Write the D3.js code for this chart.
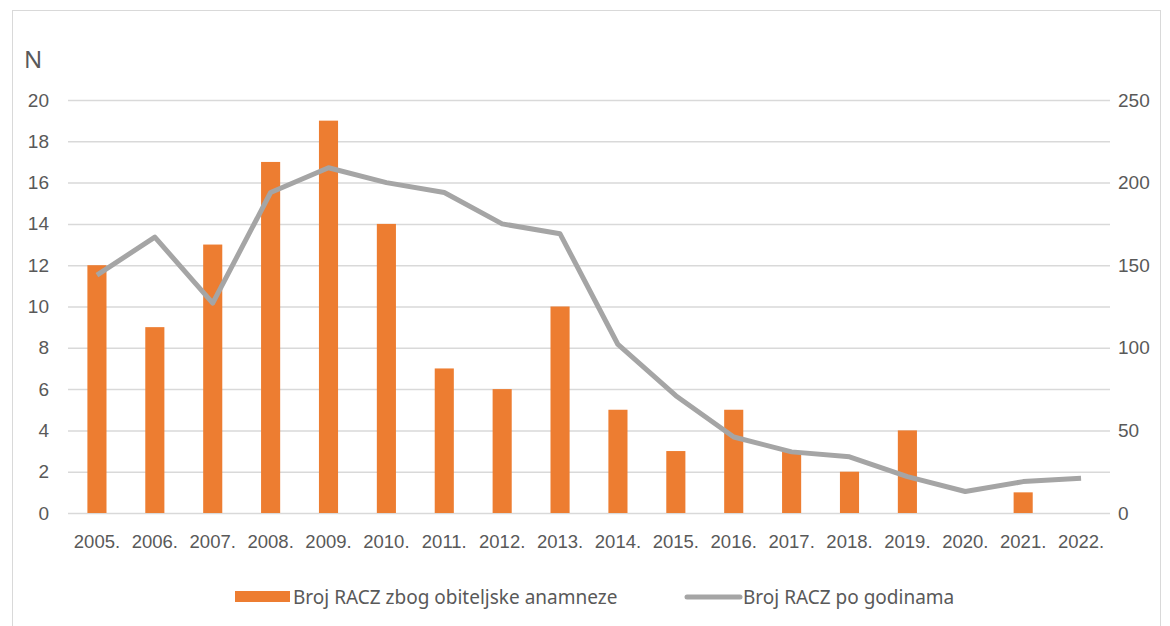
<!DOCTYPE html>
<html>
<head>
<meta charset="utf-8">
<script src="https://cdn.jsdelivr.net/npm/d3@7"></script>
<style>
  body { margin: 0; background: #fff; }
  svg { font-family: "Noto Sans", sans-serif; }
</style>
</head>
<body>
<svg id="chart" width="1170" height="626"></svg>
<script>
// podaci
const years = ["2005.", "2006.", "2007.", "2008.", "2009.", "2010.", "2011.", "2012.", "2013.",
  "2014.", "2015.", "2016.", "2017.", "2018.", "2019.", "2020.", "2021.", "2022."];
const familyHistory = [12, 9, 13, 17, 19, 14, 7, 6, 10, 5, 3, 5, 3, 2, 4, 0, 1, 0];
const perYear = [144, 167, 127, 194, 209, 200, 194, 175, 169, 102, 71, 46, 37, 34, 22, 13, 19, 21];
const leftTicks = [0, 2, 4, 6, 8, 10, 12, 14, 16, 18, 20];
const rightTicks = [0, 50, 100, 150, 200, 250];
const barLabel = "Broj RACZ zbog obiteljske anamneze";
const lineLabel = "Broj RACZ po godinama";

const svg = d3.select("#chart");
const margin = { top: 100, left: 68, bottom: 113, right: 60 };
const width = 1170, height = 626;
const textColor = "#595959";

// okvir
svg.append("rect")
  .attr("x", 12.5).attr("y", 10.5)
  .attr("width", 1148).attr("height", 640)
  .attr("fill", "none").attr("stroke", "#d9d9d9");

const x = d3.scaleBand()
  .domain(years)
  .range([margin.left, width - margin.right])
  .paddingInner(0.67)
  .paddingOuter(0.335);

const y = d3.scaleLinear().domain([0, 20]).range([height - margin.bottom, margin.top]);
const y2 = d3.scaleLinear().domain([0, 250]).range([height - margin.bottom, margin.top]);

// mreža + lijeva os
svg.append("g")
  .attr("transform", `translate(${margin.left},0)`)
  .call(d3.axisLeft(y).tickValues(leftTicks).tickSize(-(width - margin.left - margin.right)).tickPadding(19))
  .call(g => g.select(".domain").remove())
  .call(g => g.selectAll("line").attr("stroke", "#d9d9d9").attr("stroke-width", 1.5))
  .call(g => g.selectAll("text").attr("fill", textColor).attr("font-size", 19));

// desna os
svg.append("g")
  .attr("transform", `translate(${width - margin.right},0)`)
  .call(d3.axisRight(y2).tickValues(rightTicks).tickSize(0).tickPadding(8))
  .call(g => g.select(".domain").remove())
  .call(g => g.selectAll("text").attr("fill", textColor).attr("font-size", 19));

// x os
svg.append("g")
  .attr("transform", `translate(0,${height - margin.bottom})`)
  .call(d3.axisBottom(x).tickSize(0).tickPadding(22))
  .call(g => g.select(".domain").remove())
  .call(g => g.selectAll("text").attr("fill", textColor).attr("font-size", 18.5));

svg.append("text")
  .attr("x", 24).attr("y", 68)
  .attr("fill", textColor).attr("font-size", 24)
  .text("N");

// stupci
svg.append("g")
  .selectAll("rect")
  .data(years)
  .enter()
  .append("rect")
  .attr("x", d => x(d))
  .attr("width", x.bandwidth())
  .attr("y", (d, i) => y(familyHistory[i]))
  .attr("height", (d, i) => y(0) - y(familyHistory[i]))
  .attr("fill", "#ed7d31");

// linija
const line = d3.line()
  .x((d, i) => x(years[i]) + x.bandwidth() / 2)
  .y(d => y2(d));

svg.append("path")
  .datum(perYear)
  .attr("fill", "none")
  .attr("stroke", "#a5a5a5")
  .attr("stroke-width", 5)
  .attr("stroke-linejoin", "round")
  .attr("d", line);

// legenda
const legend = svg.append("g").attr("font-size", 19).attr("fill", textColor);
legend.append("rect").attr("x", 235).attr("y", 591).attr("width", 55).attr("height", 11).attr("fill", "#ed7d31");
legend.append("text").attr("x", 293).attr("y", 604).text(barLabel);
legend.append("line").attr("x1", 687).attr("x2", 740).attr("y1", 597).attr("y2", 597)
  .attr("stroke", "#a5a5a5").attr("stroke-width", 5).attr("stroke-linecap", "round");
legend.append("text").attr("x", 743).attr("y", 604).text(lineLabel);
</script>
</body>
</html>
